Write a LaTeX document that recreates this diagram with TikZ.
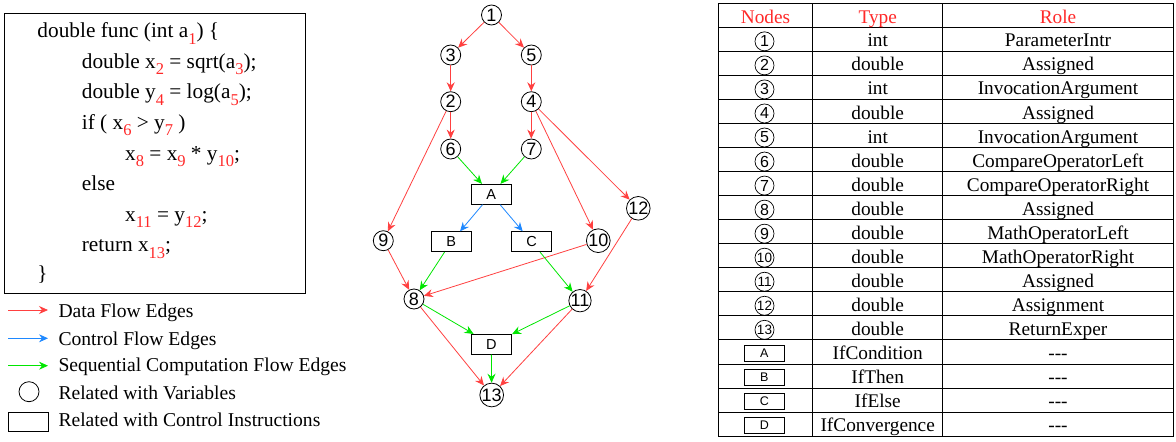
\documentclass[tikz,border=0pt]{standalone}
\usepackage{fontspec}
\setmainfont{Liberation Serif}
\newfontfamily\arialf{Liberation Sans}
\usetikzlibrary{arrows.meta}
\definecolor{dfred}{RGB}{255,64,64}
\definecolor{cfblue}{RGB}{30,136,255}
\definecolor{scgreen}{RGB}{0,230,0}
\definecolor{subred}{RGB}{255,40,40}
\newcommand\rs[1]{\raisebox{-0.3em}{\fontsize{16.5}{16.5}\selectfont\color{subred}#1}}
\begin{document}
\begin{tikzpicture}[x=1pt,y=-1pt,
  var/.style={circle,draw,line width=0.8pt,minimum size=20pt,inner sep=0pt,font=\arialf\fontsize{18}{18}\selectfont},
  ctl/.style={rectangle,draw,line width=0.8pt,minimum width=40.7pt,minimum height=20pt,inner sep=0pt,font=\arialf\fontsize{14.5}{14.5}\selectfont},
  edge/.style={line width=0.8pt,-{Stealth[length=9pt,width=8pt,inset=3pt]}},
  df/.style={edge,color=dfred},
  cf/.style={edge,color=cfblue},
  sc/.style={edge,color=scgreen},
  code/.style={anchor=base west,inner sep=0pt,font=\fontsize{21.3}{21.3}\selectfont},
  leg/.style={anchor=base west,inner sep=0pt,font=\fontsize{19.6}{19.6}\selectfont},
  cell/.style={anchor=base,inner sep=0pt,font=\fontsize{19.3}{19.3}\selectfont},
  tcirc/.style={circle,draw,line width=0.7pt,minimum size=19pt,inner sep=0pt,font=\arialf\fontsize{16}{16}\selectfont},
  tbox/.style={rectangle,draw,line width=0.7pt,minimum width=40pt,minimum height=16.7pt,inner sep=0pt,font=\arialf\fontsize{12.5}{12.5}\selectfont},
  tline/.style={line width=0.8pt}
]
\useasboundingbox (0,0) rectangle (1176,442);

% ---------- code box ----------
\node[draw,line width=0.8pt,minimum width=301.4pt,minimum height=280pt,inner sep=0pt] (codebox) at (155,153.3) {};
\node[code] (c1) at (37.3,37.7) {double func (int a\rs{1}) \{};
\node[code] (c2) at (81.7,68.3) {double x\rs{2} = sqrt(a\rs{3});};
\node[code] (c3) at (81.7,98.9) {double y\rs{4} = log(a\rs{5});};
\node[code] (c4) at (81.7,129.5) {if ( x\rs{6} > y\rs{7} )};
\node[code] (c5) at (125,160.1) {x\rs{8} = x\rs{9} * y\rs{10};};
\node[code] (c6) at (81.7,190.7) {else};
\node[code] (c7) at (125,221.3) {x\rs{11} = y\rs{12};};
\node[code] (c8) at (81.7,251.9) {return x\rs{13};};
\node[code] (c9) at (37.3,280.5) {\}};

% ---------- legend ----------
\coordinate (la1) at (8,310);   \coordinate (la2) at (48,310);
\coordinate (lb1) at (8,338.3); \coordinate (lb2) at (48,338.3);
\coordinate (lc1) at (8,365.7); \coordinate (lc2) at (48,365.7);
\draw[df] (la1) -- (la2);
\draw[cf] (lb1) -- (lb2);
\draw[sc] (lc1) -- (lc2);
\node[circle,draw,line width=0.8pt,minimum size=20pt,inner sep=0pt] (lcirc) at (29,391.7) {};
\node[rectangle,draw,line width=0.8pt,minimum width=40pt,minimum height=19.4pt,inner sep=0pt] (lrect) at (28.3,422) {};
\node[leg] (lt1) at (58.3,317.7) {Data Flow Edges};
\node[leg] (lt2) at (58.3,345) {Control Flow Edges};
\node[leg] (lt3) at (58.3,371.7) {Sequential Computation Flow Edges};
\node[leg] (lt4) at (58.3,399) {Related with Variables};
\node[leg] (lt5) at (58.3,426.7) {Related with Control Instructions};

% ---------- graph ----------
\node[var] (n1) at (491.5,15) {1};
\node[var] (n3) at (450.7,55) {3};
\node[var] (n5) at (531.3,55) {5};
\node[var] (n2) at (450.7,101.7) {2};
\node[var] (n4) at (531.3,101.7) {4};
\node[var] (n6) at (450.7,149) {6};
\node[var] (n7) at (531.3,149) {7};
\node[ctl] (A) at (491.3,194.3) {A};
\node[var] (n12) at (638.3,208.3) {12};
\node[var] (n9) at (383.3,240.7) {9};
\node[ctl] (B) at (451.3,241.7) {B};
\node[ctl] (C) at (531.5,241.7) {C};
\node[var] (n10) at (598.3,240.7) {10};
\node[var] (n8) at (414,299) {8};
\node[var] (n11) at (580,300.7) {11};
\node[ctl] (D) at (491.3,344.3) {D};
\node[var] (n13) at (491.7,395) {13};

\draw[df] (n1) -- (n3);
\draw[df] (n1) -- (n5);
\draw[df] (n3) -- (n2);
\draw[df] (n5) -- (n4);
\draw[df] (n2) -- (n6);
\draw[df] (n4) -- (n7);
\draw[df] (n2) -- (n9);
\draw[df] (n4) -- (n10);
\draw[df] (n4) -- (n12);
\draw[df] (n9) -- (n8);
\draw[df] (n10) -- (n8);
\draw[df] (n12) -- (n11);
\draw[df] (n8) -- (n13);
\draw[df] (n11) -- (n13);
\draw[sc] (n6) -- (A);
\draw[sc] (n7) -- (A);
\draw[cf] (A) -- (B);
\draw[cf] (A) -- (C);
\draw[sc] (B) -- (n8);
\draw[sc] (C) -- (n11);
\draw[sc] (n8) -- (D);
\draw[sc] (n11) -- (D);
\draw[sc] (D) -- (n13);

% ---------- table ----------
\foreach \i in {0,...,18} {
  \draw[tline] (718.3,{3.3+24.04*\i}) -- (1173.7,{3.3+24.04*\i});
}
\foreach \xx in {718.3,812.7,942.7,1173.7} {
  \draw[tline] (\xx,3.3) -- (\xx,436);
}
\node[cell,text=subred] (h1) at (765.5,23.8) {Nodes};
\node[cell,text=subred] (h2) at (877.7,23.8) {Type};
\node[cell,text=subred] (h3) at (1058,23.8) {Role};
\foreach \k/\t/\r in {1/int/ParameterIntr,2/double/Assigned,3/int/InvocationArgument,4/double/Assigned,5/int/InvocationArgument,6/double/CompareOperatorLeft,7/double/CompareOperatorRight,8/double/Assigned,9/double/MathOperatorLeft,10/double/MathOperatorRight,11/double/Assigned,12/double/Assignment,13/double/ReturnExper} {
  \node[tcirc] (tc\k) at (764.5,{3.3+24.04*\k+14}) {\ifnum\k>9 \fontsize{13.5}{13.5}\selectfont\fi\k};
  \node[cell] (tt\k) at (877.7,{3.3+24.04*(\k+1)-4.5}) {\t};
  \node[cell] (tr\k) at (1058,{3.3+24.04*(\k+1)-4.5}) {\r};
}
\foreach \k/\l/\t in {14/A/IfCondition,15/B/IfThen,16/C/IfElse,17/D/IfConvergence} {
  \node[tbox] (tb\k) at (764.3,{3.3+24.04*\k+13.5}) {\l};
  \node[cell] (tt\k) at (877.7,{3.3+24.04*(\k+1)-4.5}) {\t};
  \node[cell] (tr\k) at (1058,{3.3+24.04*(\k+1)-4.5}) {-{}-{}-};
}
\end{tikzpicture}
\end{document}
